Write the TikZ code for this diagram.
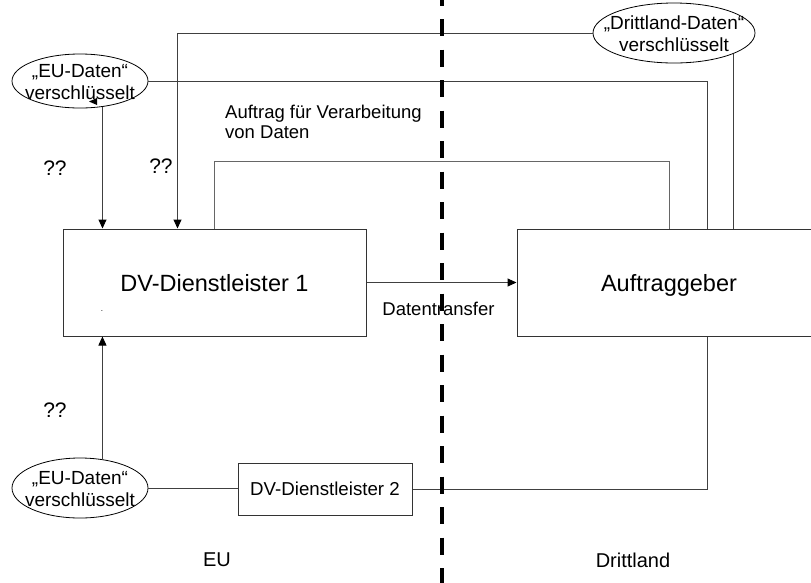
\documentclass[tikz,border=0pt]{standalone}
\usepackage{fontspec}
\setmainfont{Liberation Sans}
\usetikzlibrary{arrows.meta,shapes.geometric}
\begin{document}
\begin{tikzpicture}[x=1pt,y=-1pt,
 box/.style={draw=black!80,line width=1pt,fill=white,inner sep=0pt},
 oval/.style={ellipse,draw=black,line width=0.8pt,inner sep=0pt},
 conn/.style={draw=black!75,line width=1pt},
 arr/.style={conn,-{Triangle[length=9pt,width=8pt,color=black]}},
 lbl/.style={inner sep=0pt,align=center,font=\fontsize{19}{22}\selectfont},
 big/.style={font=\fontsize{23.5}{26}\selectfont,text height=17.2pt,text depth=0pt}]
\useasboundingbox (0,0) rectangle (811,582);
\fill[white] (0,0) rectangle (811,582);
% boxes
\node[box,big,minimum width=303,minimum height=107] (dv1) at (214.5,282.5) {DV-Dienstleister 1};
\node[box,big,minimum width=304,minimum height=107] (auf) at (669,282.5) {Auftraggeber};
\node[box,font=\fontsize{18.7}{22}\selectfont,minimum width=174,minimum height=52] (dv2) at (325,489) {DV-Dienstleister 2};
% ellipses
\node[oval,minimum width=136,minimum height=54] (eu1) at (80,81) {};
\node[lbl] (eu1t) at (80,82) {„EU-Daten“\\verschlüsselt};
\node[oval,minimum width=136,minimum height=60] (eu2) at (80,488) {};
\node[lbl] (eu2t) at (80,489) {„EU-Daten“\\verschlüsselt};
\node[oval,minimum width=162,minimum height=60] (dl) at (674,33) {};
\node[lbl] (dlt) at (674,34) {„Drittland-Daten“\\verschlüsselt};
% small stray arrow tip
\fill (89,101.5) -- (97,98) -- (97,105) -- cycle;
% connectors
\draw[conn] (eu1.east) -| ([xshift=191pt]auf.north west);
\draw[arr] (eu1.311) -- (eu1.311 |- dv1.north);
\draw[arr] (dl.west) -| ([xshift=115pt]dv1.north west);
\draw[conn] (dl.341) -- (dl.341 |- auf.north);
\draw[conn,draw=black!60] ([xshift=152pt]dv1.north west) -- ++(0,-67) -| ([xshift=153pt]auf.north west);
\draw[arr] (dv1.east) -- (auf.west);
\draw[arr] (eu2.52) -- (eu2.52 |- dv1.south);
\draw[conn] (eu2.east) -- (eu2.east -| dv2.west);
\draw[conn] (dv2.east) -| ([xshift=191pt]auf.south west);
% labels
\node[lbl,font=\fontsize{18.5}{20}\selectfont,align=left,anchor=north west] (auftrag) at (225,104.5) {Auftrag für Verarbeitung\\von Daten};
\node[lbl,font=\fontsize{18.5}{20}\selectfont] (dt) at (438.5,309) {Datentransfer};
\node[lbl,font=\fontsize{21}{24}\selectfont] (q1) at (55,168) {??};
\node[lbl,font=\fontsize{21}{24}\selectfont] (q2) at (161,166) {??};
\node[lbl,font=\fontsize{21}{24}\selectfont] (q3) at (55,410) {??};
\node[lbl,font=\fontsize{8}{10}\selectfont] (dot) at (102,311) {.};
\node[lbl,font=\fontsize{20}{24}\selectfont] (eu) at (217,560) {EU};
\node[lbl,font=\fontsize{20}{24}\selectfont] (drl) at (633,560) {Drittland};
% border line
\draw[line width=4.3pt,dash pattern=on 17pt off 13.5pt] (442,-11.5) -- (442,600);
\end{tikzpicture}
\end{document}
